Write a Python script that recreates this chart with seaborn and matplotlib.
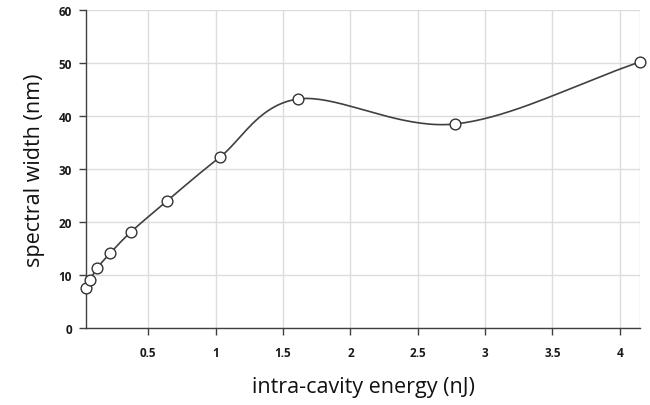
import numpy as np
import pandas as pd
import matplotlib
matplotlib.use("Agg")
import matplotlib.pyplot as plt
import seaborn as sns

energy = [0.037, 0.067, 0.12, 0.216, 0.37, 0.64, 1.03, 1.61, 2.78, 4.15]
width = [7.5, 9.0, 11.3, 14.1, 18.1, 24.0, 32.2, 43.2, 38.5, 50.2]
x_ticks = [0.5, 1, 1.5, 2, 2.5, 3, 3.5, 4]
x_tick_labels = ["0.5", "1", "1.5", "2", "2.5", "3", "3.5", "4"]
y_ticks = [0, 10, 20, 30, 40, 50, 60]


def catmull_rom(xs, ys, sx=134.5, sy=5.3, n=40):
    P = np.column_stack([np.asarray(xs) * sx, np.asarray(ys) * sy])
    P = np.vstack([P[0] - (P[1] - P[0]), P, P[-1] + (P[-1] - P[-2])])
    out = []
    for i in range(1, len(P) - 2):
        p0, p1, p2, p3 = P[i - 1], P[i], P[i + 1], P[i + 2]
        t = np.linspace(0, 1, n, endpoint=(i == len(P) - 3))[:, None]
        seg = 0.5 * ((2 * p1) + (-p0 + p2) * t + (2 * p0 - 5 * p1 + 4 * p2 - p3) * t ** 2
                     + (-p0 + 3 * p1 - 3 * p2 + p3) * t ** 3)
        out.append(seg)
    out = np.vstack(out)
    return out[:, 0] / sx, out[:, 1] / sy


sns.set_theme(style="white")
plt.rcParams['font.family'] = ['Open Sans', 'DejaVu Sans']

fig = plt.figure(figsize=(6.5, 4.06), dpi=100)
ax = fig.add_axes([0.1323, 0.1897, 0.8523, 0.7832])

cx, cy = catmull_rom(energy, width)
curve = pd.DataFrame({"x": cx, "y": cy})
pts = pd.DataFrame({"energy": energy, "width": width})

sns.lineplot(data=curve, x="x", y="y", ax=ax, color="#404040", lw=1.2, sort=False, zorder=3)
sns.scatterplot(data=pts, x="energy", y="width", ax=ax, s=60, color="white",
                edgecolor="#333333", linewidth=1.0, zorder=4, clip_on=False)

ax.set_xlim(energy[0], energy[-1])
ax.set_ylim(0, 60)
ax.set_xticks(x_ticks)
ax.set_xticklabels(x_tick_labels)
ax.set_yticks(y_ticks)
ax.grid(True, color="#dcdcdc", lw=1.0)
ax.set_axisbelow(True)

for s in ["top", "right"]:
    ax.spines[s].set_visible(False)
for s in ["left", "bottom"]:
    ax.spines[s].set_color("#404040")
    ax.spines[s].set_linewidth(1.0)
ax.axvline(energy[-1], color="#dcdcdc", lw=1.0, zorder=0)

ax.tick_params(axis="both", which="major", length=5, width=1, color="#404040",
               labelsize=8.5, labelcolor="#1a1a1a", direction="out", bottom=True, left=True)
ax.tick_params(axis="y", pad=5)
ax.tick_params(axis="x", pad=8)
for lab in ax.get_xticklabels() + ax.get_yticklabels():
    lab.set_fontweight("bold")

ax.set_xlabel("intra-cavity energy (nJ)", fontsize=15.5, color="#111111", labelpad=12)
ax.set_ylabel("spectral width (nm)", fontsize=15.5, color="#111111", labelpad=10)

fig.savefig("out.png", dpi=100)
